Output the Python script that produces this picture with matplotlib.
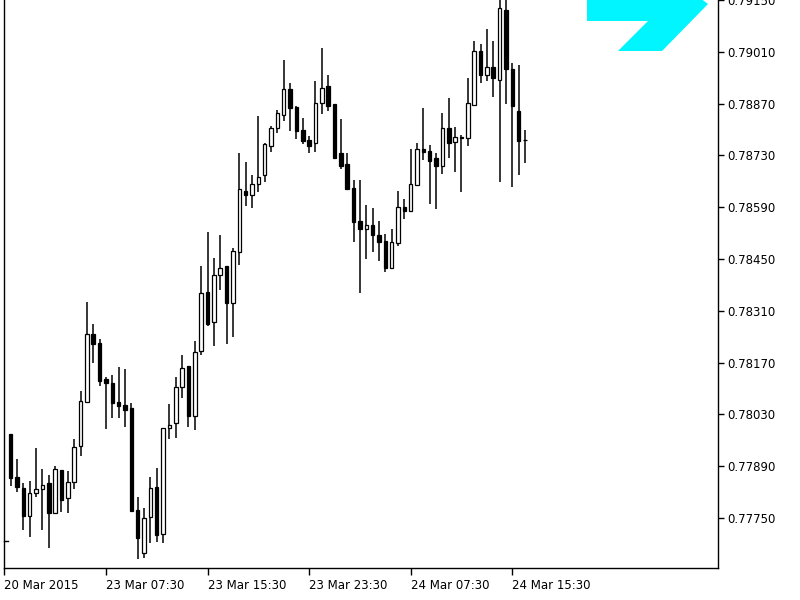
import matplotlib
matplotlib.use('Agg')
import matplotlib.pyplot as plt
from matplotlib.patches import Polygon
import numpy as np

# EURGBP-like M30 candles (O, H, L, C)
opens = [0.77976, 0.77860, 0.77830, 0.77755, 0.77817, 0.77828, 0.77844, 0.77763, 0.77879, 0.77803,
         0.77847, 0.77944, 0.78063, 0.78246, 0.78222, 0.78125, 0.78114, 0.78063, 0.78055, 0.78046,
         0.77771, 0.77655, 0.77752, 0.77833, 0.77706, 0.77992, 0.78006, 0.78103, 0.78160, 0.78025,
         0.78200, 0.78362, 0.78279, 0.78408, 0.78430, 0.78330, 0.78468, 0.78635, 0.78622, 0.78654,
         0.78676, 0.78756, 0.78805, 0.78840, 0.78910, 0.78862, 0.78800, 0.78773, 0.78765, 0.78873,
         0.78919, 0.78870, 0.78738, 0.78708, 0.78643, 0.78554, 0.78530, 0.78541, 0.78516, 0.78500,
         0.78427, 0.78492, 0.78592, 0.78581, 0.78651, 0.78748, 0.78743, 0.78724, 0.78702, 0.78805,
         0.78767, 0.78781, 0.78778, 0.78867, 0.79013, 0.78948, 0.78970, 0.78935, 0.79124, 0.78964,
         0.78851, 0.78773]
highs = [0.77976, 0.77909, 0.77844, 0.77849, 0.77938, 0.77882, 0.77865, 0.77890, 0.77879, 0.77876,
         0.77963, 0.78092, 0.78335, 0.78273, 0.78233, 0.78130, 0.78136, 0.78157, 0.78152, 0.78060,
         0.77806, 0.77776, 0.77860, 0.77884, 0.77992, 0.78057, 0.78130, 0.78190, 0.78160, 0.78227,
         0.78430, 0.78522, 0.78454, 0.78516, 0.78430, 0.78481, 0.78738, 0.78713, 0.78676, 0.78838,
         0.78765, 0.78810, 0.78854, 0.78989, 0.78927, 0.78865, 0.78832, 0.78784, 0.78932, 0.79021,
         0.78948, 0.78870, 0.78829, 0.78738, 0.78665, 0.78665, 0.78597, 0.78589, 0.78554, 0.78519,
         0.78530, 0.78635, 0.78613, 0.78748, 0.78765, 0.78859, 0.78759, 0.78738, 0.78846, 0.78886,
         0.78808, 0.78786, 0.78940, 0.79040, 0.79032, 0.79072, 0.79040, 0.79161, 0.79161, 0.78981,
         0.78975, 0.78800]
lows = [0.77836, 0.77820, 0.77717, 0.77698, 0.77806, 0.77717, 0.77668, 0.77760, 0.77766, 0.77763,
        0.77828, 0.77917, 0.78063, 0.78168, 0.78106, 0.77990, 0.78019, 0.78019, 0.77995, 0.77766,
        0.77639, 0.77641, 0.77682, 0.77685, 0.77682, 0.77963, 0.77965, 0.78073, 0.77995, 0.77987,
        0.78190, 0.78268, 0.78214, 0.78365, 0.78219, 0.78238, 0.78433, 0.78594, 0.78589, 0.78630,
        0.78657, 0.78740, 0.78792, 0.78824, 0.78797, 0.78775, 0.78762, 0.78738, 0.78740, 0.78843,
        0.78851, 0.78724, 0.78694, 0.78638, 0.78497, 0.78357, 0.78451, 0.78470, 0.78446, 0.78414,
        0.78425, 0.78484, 0.78557, 0.78578, 0.78651, 0.78719, 0.78600, 0.78586, 0.78681, 0.78724,
        0.78684, 0.78632, 0.78756, 0.78867, 0.78927, 0.78932, 0.78889, 0.78659, 0.78870, 0.78646,
        0.78678, 0.78711]
closes = [0.77857, 0.77833, 0.77755, 0.77817, 0.77828, 0.77838, 0.77763, 0.77882, 0.77798, 0.77847,
          0.77941, 0.78065, 0.78246, 0.78219, 0.78119, 0.78114, 0.78060, 0.78052, 0.78041, 0.77768,
          0.77695, 0.77749, 0.77830, 0.77704, 0.77992, 0.78000, 0.78103, 0.78154, 0.78025, 0.78198,
          0.78357, 0.78273, 0.78408, 0.78427, 0.78330, 0.78473, 0.78640, 0.78622, 0.78654, 0.78673,
          0.78762, 0.78805, 0.78846, 0.78910, 0.78859, 0.78797, 0.78770, 0.78756, 0.78873, 0.78913,
          0.78865, 0.78724, 0.78702, 0.78640, 0.78551, 0.78530, 0.78541, 0.78514, 0.78495, 0.78427,
          0.78495, 0.78592, 0.78581, 0.78654, 0.78748, 0.78740, 0.78716, 0.78702, 0.78805, 0.78765,
          0.78781, 0.78778, 0.78873, 0.79013, 0.78948, 0.78970, 0.78940, 0.79129, 0.78964, 0.78865,
          0.78770, 0.78773]

x_tick_bars = [-1, 15, 31, 47, 63, 79]
x_tick_labels = ['20 Mar 2015', '23 Mar 07:30', '23 Mar 15:30',
                 '23 Mar 23:30', '24 Mar 07:30', '24 Mar 15:30']
y_ticks = [0.77750, 0.77890, 0.78030, 0.78170, 0.78310, 0.78450,
           0.78590, 0.78730, 0.78870, 0.79010, 0.79150]

W, H = 800, 600
fig = plt.figure(figsize=(8, 6), dpi=100)
ax = fig.add_axes([4 / W, 32 / H, 714 / W, 568 / H])

o = np.array(opens); h = np.array(highs); l = np.array(lows); c = np.array(closes)
x = np.arange(len(o))

ax.vlines(x, l, h, color='black', lw=1.1, zorder=2)
bull = c >= o
bottoms = np.minimum(o, c)
heights = np.abs(c - o)
ax.bar(x[bull], heights[bull], bottom=bottoms[bull], width=0.55,
       facecolor='white', edgecolor='black', linewidth=0.9, zorder=3)
ax.bar(x[~bull], heights[~bull], bottom=bottoms[~bull], width=0.55,
       facecolor='black', edgecolor='black', linewidth=0.9, zorder=3)

ax.set_xlim(-1.055, 111.4)
ax.set_ylim(0.776144, 0.791505)

ax.yaxis.tick_right()
ax.set_yticks(y_ticks)
ax.set_yticklabels([f'{v:.5f}' for v in y_ticks])
ax.set_xticks(x_tick_bars)
ax.set_xticklabels(x_tick_labels)
for lbl in ax.get_xticklabels():
    lbl.set_horizontalalignment('left')

ax.tick_params(axis='both', direction='out', length=4, width=1,
               colors='black', labelsize=8.5)
ax.tick_params(axis='y', pad=3)
ax.tick_params(axis='x', length=5, pad=3)

for s in ['left', 'bottom', 'right']:
    ax.spines[s].set_color('black')
    ax.spines[s].set_linewidth(1)
ax.spines['top'].set_visible(False)

# small marker at the left edge
ax.plot([0.0, 0.006], [0.77687, 0.77687], transform=ax.get_yaxis_transform(),
        color='black', lw=1, clip_on=False)

# cyan logo shape at the top right
pts_px = [(587, -2), (700, -2), (708, 4), (662, 51), (618, 51), (648, 21), (587, 21)]
poly = Polygon([(px / W, 1 - py / H) for px, py in pts_px], closed=True,
               transform=fig.transFigure, facecolor='#00F5FF', edgecolor='none', zorder=5)
fig.patches.append(poly)

fig.savefig('out.png', dpi=100)
